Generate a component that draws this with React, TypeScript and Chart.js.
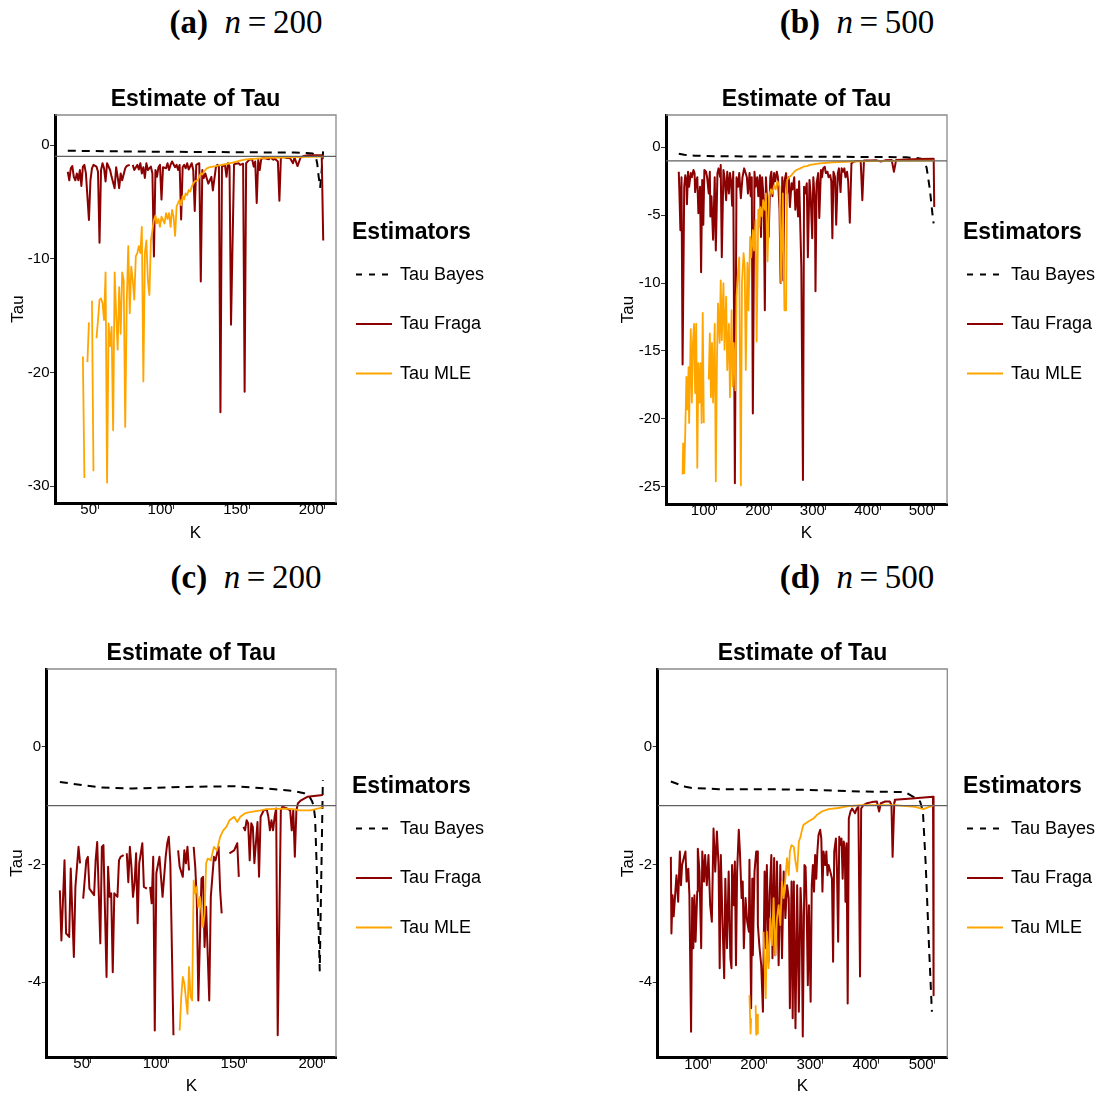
import React, { useEffect, useRef } from "react";
import { Chart, registerables } from "chart.js";

Chart.register(...registerables);

const FONT = '"Liberation Sans", Arial, Helvetica, sans-serif';
const SERIF = '"Liberation Serif", "DejaVu Serif", serif';

// ---- series names / colours ----
const seriesNames = ["Tau Bayes", "Tau Fraga", "Tau MLE"];
const seriesColors = ["#000000", "#8B0000", "#FFA500"];
const referenceTau = -1;

// ---- axis ticks / limits ----
const xTicksN200 = [50, 100, 150, 200];
const xTicksN500 = [100, 200, 300, 400, 500];
const xLimitsN200 = [21.55, 207.45];
const xLimitsN500 = [6.55, 522.45];
const yTicksA = [0, -10, -20, -30];
const yTicksB = [0, -5, -10, -15, -20, -25];
const yTicksCD = [0, -2, -4];
const yLimitsA = [-31.49, 2.64];
const yLimitsB = [-26.27, 2.38];
const yLimitsC = [-5.27, 1.32];
const yLimitsD = [-5.28, 1.32];

// ---- captions ----
const captionTags = ["(a)", "(b)", "(c)", "(d)"];
const captionN = [200, 500, 200, 500];

// ---- panel (a): n = 200, [K, Tau] ----
const aBayes = [[30,-0.50],[45,-0.53],[60,-0.55],[80,-0.58],[100,-0.60],[120,-0.61],[140,-0.63],[160,-0.65],[180,-0.66],[188,-0.70],[192,-0.75],[194,-1.0],[195,-1.6],[196,-2.8],[197,-3.7],[198,-2.2],[199,-0.4]];
const aFraga = [[30,-2.35],[31,-3.1],[32,-2.05],[33,-1.85],[34,-2.8],[35,-3.1],[36,-2.5],[37,-3.1],[38,-2.2],[39,-3.6],[40,-1.9],[41,-1.75],[42,-2.5],[44,-6.6],[45,-3.1],[46,-2.05],[47,-1.75],[49,-1.9],[50,-2.35],[51,-8.6],[52,-2.2],[53,-1.6],[54,-2.05],[55,-3.2],[56,-1.6],[58,-2.2],[59,-2.8],[61,-3.8],[62,-1.95],[63,-2.8],[64,-3.8],[65,-2.5],[66,-3.1],[68,-2.05],[69,-1.85],[71,-1.75],[72,null],[73,-1.75],[74,-2.2],[76,-1.75],[77,-2.15],[78,-1.6],[79,-2.5],[80,-1.95],[81,-2.9],[82,-1.6],[83,-2.2],[85,-1.9],[86,-2.5],[87,-9.8],[88,-2.2],[89,-2.8],[90,-1.95],[91,-1.75],[92,-4.8],[93,-1.95],[95,-2.05],[96,-1.6],[97,-2.2],[98,-1.75],[99,-1.45],[101,-1.95],[102,-1.75],[103,-2.2],[104,-1.75],[105,-6.55],[106,-1.95],[107,-1.75],[108,-2.05],[109,-1.6],[110,-2.15],[112,-1.6],[113,-2.2],[114,-5.8],[115,-1.75],[117,-1.6],[118,-12.0],[119,-2.2],[120,-2.9],[121,-2.5],[123,-3.4],[125,-2.8],[126,-4.0],[128,-1.95],[129,-1.75],[130,-1.9],[131,-23.5],[132,-1.9],[134,-1.75],[135,-2.8],[136,-1.6],[137,-1.85],[138,-15.8],[140,-1.7],[141,-1.65],[143,-1.6],[144,-1.75],[146,-1.65],[147,-21.7],[148,-1.6],[150,-1.3],[152,-1.25],[153,-1.9],[154,-1.45],[155,-5.1],[156,-1.3],[157,-2.2],[158,-1.2],[160,-1.15],[163,-1.25],[164,-1.1],[166,-1.3],[167,-1.2],[169,-1.45],[170,-4.9],[171,-1.1],[173,-1.05],[175,-1.15],[177,-1.15],[179,-1.6],[180,-1.1],[182,-1.85],[184,-1.1],[186,-0.97],[189,-0.9],[193,-0.9],[197,-0.9],[198,-0.9],[199,-8.4]];
const aMle = [[40,-18.6],[41,-29.3],[42,null],[43,-19.1],[44,-15.6],[45,null],[46,-13.7],[47,-28.7],[48,null],[49,-17.0],[50,-15.4],[51,-13.6],[52,-13.5],[53,-13.9],[54,-15.4],[55,-11.2],[56,-29.7],[57,-15.7],[58,-17.7],[59,-16.0],[60,-25.1],[61,-11.2],[62,-14.8],[63,-18.0],[64,-12.5],[65,-16.6],[66,-11.2],[67,-11.9],[68,-24.8],[69,-13.9],[70,-8.9],[71,-14.8],[72,-10.7],[73,-11.9],[74,-13.6],[75,-9.8],[76,-9.5],[77,-8.9],[78,-9.5],[79,-7.2],[80,-20.8],[81,-9.5],[82,-8.4],[83,-11.9],[84,-13.2],[85,-8.4],[86,-7.5],[87,-6.6],[88,-6.2],[89,-6.9],[90,-6.5],[91,-7.2],[92,-6.3],[93,-6.6],[94,-6.9],[95,-6.0],[96,-6.5],[97,-6.0],[98,-7.2],[99,-5.7],[100,-6.3],[101,-8.0],[102,-5.4],[103,-5.1],[104,-4.8],[105,-5.3],[106,-4.5],[107,-4.8],[108,-4.25],[109,-4.4],[110,-3.96],[111,-4.1],[112,-3.67],[113,-3.4],[114,-3.2],[116,-3.1],[117,-2.8],[118,-2.5],[119,-2.6],[120,-2.35],[122,-2.05],[124,-1.95],[126,-1.9],[128,-1.85],[131,-1.76],[135,-1.67],[139,-1.55],[144,-1.38],[148,-1.26],[155,-1.2],[162,-1.14],[170,-1.1],[180,-1.07],[190,-1.05],[199,-1.03]];

// ---- panel (b): n = 500 ----
const bBayes = [[30,-0.47],[40,-0.55],[60,-0.62],[100,-0.66],[150,-0.67],[200,-0.68],[300,-0.70],[400,-0.71],[448,-0.74],[470,-0.80],[479,-0.88],[485,-1.5],[491,-3.1],[497,-5.4],[498,-5.6]];
const bFraga = [[30,-1.8],[31,-3.1],[33,-6.1],[35,-2.2],[37,-16.0],[40,-2.9],[42,-2.05],[44,-2.5],[45,-4.2],[47,-1.8],[49,-2.9],[52,-1.9],[54,-2.2],[57,-1.67],[59,-1.9],[60,-3.3],[62,-2.5],[64,-2.2],[66,-4.85],[69,-2.9],[71,-9.2],[73,-2.4],[75,-5.7],[77,-1.67],[80,-1.8],[82,-2.2],[85,-3.4],[87,-1.8],[88,-5.1],[90,-3.6],[93,-6.8],[96,-2.2],[98,-7.6],[101,-1.9],[103,-1.55],[106,-2.2],[107,-1.3],[109,-8.1],[112,-1.67],[114,-2.2],[117,-3.9],[119,-1.8],[122,-3.4],[124,-1.9],[126,-2.5],[128,-4.3],[130,-1.8],[133,-24.75],[136,-2.2],[139,-2.9],[141,-1.9],[144,-3.75],[147,-2.2],[150,-1.55],[152,-1.8],[155,-2.2],[157,-3.4],[160,-1.9],[162,-3.6],[164,-2.2],[166,-19.6],[169,-1.8],[171,-2.9],[174,-2.2],[176,-3.6],[179,-2.05],[181,-6.6],[183,-2.2],[186,-3.9],[188,-12.0],[190,-2.2],[193,-4.6],[195,-6.6],[198,-2.2],[200,-1.8],[202,-3.6],[205,-1.9],[207,-2.5],[210,-1.8],[212,-2.2],[215,-4.6],[217,-10.0],[220,-2.2],[222,-9.8],[224,-2.5],[227,-1.9],[229,-3.4],[232,-2.2],[234,-4.4],[237,-2.65],[239,-3.1],[242,-2.2],[244,-4.6],[247,-3.1],[249,-5.1],[251,-2.5],[255,-8.8],[258,-24.5],[260,-2.9],[262,-3.4],[265,-2.65],[267,-8.1],[270,-2.4],[272,-3.4],[275,-6.7],[277,-2.2],[280,-4.1],[281,-10.6],[283,-2.65],[286,-1.9],[288,-5.2],[291,-1.67],[293,-2.2],[295,-1.55],[298,-1.43],[300,-1.9],[303,-1.8],[305,-2.2],[308,-2.05],[310,-2.5],[312,-6.7],[314,-1.8],[317,-2.2],[319,-5.7],[322,-1.9],[324,-1.55],[327,-3.3],[329,-1.55],[332,-1.8],[334,-1.55],[336,-2.2],[339,-1.8],[341,-2.5],[344,-5.55],[347,-1.18],[351,-1.06],[357,-1.0],[364,-1.0],[367,-3.9],[370,-0.98],[381,-0.98],[393,-0.96],[401,-1.05],[409,-0.96],[421,-0.94],[425,-1.8],[429,-0.94],[448,-0.89],[473,-0.86],[498,-0.84],[499,-4.4]];
const bMle = [[37,-24.1],[38,-21.8],[40,-24.0],[42,-20.8],[44,-16.9],[46,-19.3],[48,-16.2],[49,-20.3],[52,-13.4],[54,-18.8],[56,-14.4],[58,-13.0],[60,-18.1],[62,-13.0],[64,-23.6],[66,-15.9],[68,-18.8],[70,-15.9],[72,-20.3],[74,-12.2],[76,-20.3],[77,null],[85,-17.1],[87,-13.7],[89,-18.4],[91,-14.4],[93,-18.8],[96,-13.0],[98,-24.6],[100,-15.9],[102,-11.5],[105,-14.4],[107,-9.8],[109,-14.2],[112,-10.0],[114,-14.9],[117,-11.0],[119,-16.4],[122,-13.0],[124,-18.4],[127,-12.0],[129,-17.6],[131,-14.4],[134,-17.9],[136,-11.0],[139,-9.0],[141,-8.1],[144,-24.9],[146,-10.0],[149,-7.8],[151,-8.8],[153,-16.4],[156,-8.5],[158,-12.0],[161,-6.6],[163,-8.1],[166,-6.1],[168,-7.6],[171,-5.35],[173,-14.3],[176,-4.6],[178,-5.85],[180,-4.4],[183,-5.1],[185,-3.9],[188,-4.6],[190,-3.4],[193,-8.4],[196,-3.6],[199,-3.1],[202,-3.4],[205,-2.8],[208,-3.1],[211,-2.5],[215,-2.9],[218,-10.0],[221,-3.4],[224,-12.0],[227,-12.0],[229,-2.4],[233,-2.2],[237,-2.05],[242,-1.8],[246,-1.67],[253,-1.55],[259,-1.43],[265,-1.38],[271,-1.3],[289,-1.18],[314,-1.1],[344,-1.06],[406,-1.0],[499,-0.98]];

// ---- panel (c): n = 200 ----
const cBayes = [[30,-0.60],[44,-0.65],[56,-0.69],[77,-0.71],[99,-0.69],[120,-0.68],[142,-0.67],[163,-0.71],[180,-0.75],[187,-0.79],[190,-0.83],[192,-0.92],[193,-1.0],[194,-1.2],[195,-2.0],[196,-2.85],[197,-3.8],[198,-2.2],[199,-0.57]];
const cFraga = [[30,-2.44],[31,-3.29],[33,-1.93],[34,-3.17],[36,-3.23],[37,-2.07],[39,-3.57],[40,-2.38],[42,-1.70],[43,-1.98],[44,null],[45,-2.58],[47,-1.93],[48,-1.87],[49,-2.41],[52,-2.52],[53,-1.93],[54,-1.62],[56,-3.34],[57,-1.70],[58,-1.67],[60,-3.91],[61,-2.04],[62,-2.55],[63,-2.49],[64,-3.83],[65,-2.49],[67,-2.55],[68,-1.93],[69,-1.87],[71,-1.84],[72,null],[73,-1.81],[74,-2.30],[75,-1.70],[76,-2.04],[77,-2.55],[78,-2.32],[79,-1.81],[80,-3.00],[81,-1.98],[83,-1.64],[84,-2.38],[86,-2.41],[87,null],[88,-2.38],[89,-2.66],[90,-1.87],[91,-4.82],[92,-2.15],[94,-1.87],[95,-2.21],[96,-2.55],[98,-1.87],[99,-1.64],[100,-1.53],[101,-1.98],[103,-4.90],[104,null],[106,-1.76],[107,-2.04],[109,-2.21],[110,-1.76],[111,-1.98],[112,-1.70],[113,-2.10],[114,null],[116,-1.70],[117,-2.04],[118,-2.6],[119,-4.31],[121,-2.24],[122,-2.21],[123,-3.40],[124,-2.72],[126,-4.31],[127,-2.55],[129,-1.87],[130,-1.93],[132,-1.70],[133,-2.44],[134,-2.83],[135,null],[139,-1.81],[142,-1.76],[144,-1.64],[145,-2.21],[146,null],[148,-1.36],[149,-1.42],[150,-1.25],[151,-1.30],[152,-1.93],[153,-1.30],[154,-1.36],[155,-1.98],[157,-1.28],[158,-2.21],[159,-1.19],[161,-1.08],[163,-1.07],[164,-1.19],[165,-1.42],[166,-1.25],[167,-1.42],[168,-1.19],[169,-1.05],[170,-4.90],[172,-1.08],[173,-1.02],[176,-1.05],[178,-1.08],[179,-1.42],[180,-1.08],[181,-1.87],[182,-1.08],[183,-0.96],[185,-0.91],[189,-0.85],[199,-0.82]];
const cMle = [[107,-4.82],[108,-4.25],[109,-3.91],[110,-4.02],[112,-4.54],[113,-3.74],[114,-4.25],[115,-4.31],[116,-2.27],[117,-2.49],[118,-2.38],[119,-2.72],[120,-2.55],[122,-3.06],[123,-2.83],[124,-1.98],[125,-1.90],[127,-1.93],[129,-1.70],[131,-1.76],[133,-1.53],[135,-1.42],[137,-1.36],[139,-1.25],[142,-1.19],[144,-1.28],[146,-1.19],[149,-1.13],[152,-1.11],[159,-1.08],[163,-1.06],[174,-1.05],[180,-1.06],[184,-1.08],[191,-1.08],[199,-1.03]];

// ---- panel (d): n = 500 ----
const dBayes = [[30,-0.59],[56,-0.68],[68,-0.70],[115,-0.72],[200,-0.72],[264,-0.73],[370,-0.76],[447,-0.77],[462,-0.85],[474,-0.93],[479,-1.1],[484,-2.0],[490,-3.42],[495,-4.5]];
const dFraga = [[30,-1.87],[31,-3.17],[33,-2.52],[35,-2.88],[38,-2.46],[40,-2.18],[43,-2.63],[46,-1.78],[48,-2.35],[50,-2.01],[53,-1.89],[56,-1.78],[58,-2.29],[61,-2.07],[63,-2.52],[66,-4.84],[68,-2.57],[70,-3.42],[72,-2.52],[74,-3.31],[77,-2.46],[78,-1.73],[81,-2.12],[84,-3.42],[86,-1.78],[89,-2.29],[91,-1.84],[94,-2.35],[97,-1.84],[100,-2.69],[103,-2.97],[106,-1.39],[109,-2.12],[112,-1.44],[115,-2.01],[117,-3.76],[119,-1.84],[122,-2.97],[125,-3.93],[127,-2.24],[130,-3.42],[133,-2.12],[136,-3.59],[138,-3.76],[139,-2.01],[142,-2.69],[144,-1.95],[146,-3.71],[148,-2.12],[151,-1.41],[153,-1.78],[156,-2.57],[158,-2.29],[160,-3.42],[163,-2.57],[166,-2.97],[169,-3.14],[170,-1.92],[173,-4.44],[175,-2.24],[176,-3.54],[179,-2.12],[182,-1.78],[184,-1.78],[185,-3.03],[188,-3.42],[191,-3.71],[194,-4.50],[197,-2.12],[198,-3.42],[201,-2.01],[204,-3.65],[206,-2.52],[209,-1.84],[211,-3.59],[214,-1.89],[216,-3.54],[219,-1.95],[222,-3.71],[225,-2.01],[228,-3.59],[231,-2.12],[234,-2.91],[237,-2.35],[240,-2.57],[242,-4.44],[245,-2.29],[247,-4.61],[249,-2.29],[252,-4.78],[255,-2.35],[258,-4.50],[261,-2.40],[263,-2.86],[265,-4.92],[268,-2.01],[270,-2.04],[272,-2.80],[274,-4.05],[276,-2.69],[279,-4.33],[281,-2.35],[283,-2.01],[285,-2.46],[287,-1.84],[289,-2.24],[291,-1.78],[293,-1.50],[296,-1.41],[298,-1.56],[300,-2.46],[302,-1.78],[305,-2.01],[307,-1.78],[309,-2.18],[311,-2.01],[314,-2.12],[317,-2.24],[319,-3.65],[321,-1.78],[324,-1.56],[326,-2.12],[328,-3.31],[330,-1.53],[332,-1.67],[334,-1.56],[336,-2.24],[338,-1.61],[340,-1.78],[341,-2.63],[343,-1.64],[345,-4.36],[347,-1.22],[350,-1.10],[353,-1.05],[358,-1.13],[361,-1.05],[364,-1.02],[367,-3.90],[369,-1.05],[373,-0.99],[379,-0.96],[388,-0.94],[397,-0.93],[401,-1.10],[404,-0.96],[412,-0.93],[420,-0.93],[423,-0.99],[425,-1.87],[428,-0.94],[429,-0.90],[459,-0.88],[497,-0.85],[498,-4.22]];
const dMle = [[170,-4.22],[172,-4.87],[173,-4.61],[174,null],[181,-4.39],[182,-4.89],[184,-4.55],[185,-4.87],[186,null],[195,-3.14],[197,-3.71],[199,-4.27],[201,-3.14],[204,-3.76],[207,-2.91],[210,-3.37],[213,-2.57],[216,-3.54],[219,-2.91],[222,-2.69],[225,-3.03],[228,-2.29],[231,-2.57],[234,-2.24],[237,-1.89],[240,-2.18],[242,-1.78],[245,-1.67],[249,-1.70],[252,-1.95],[255,-2.12],[258,-1.61],[261,-1.53],[263,-1.44],[266,-1.33],[275,-1.27],[284,-1.22],[290,-1.16],[299,-1.10],[311,-1.06],[328,-1.04],[346,-1.01],[370,-0.99],[429,-0.99],[465,-1.02],[480,-1.06],[496,-1.00],[498,-1.00]];

// ---- layout of the four panels (page pixels / canvas pixels) ----
const panels = [
  { tag: captionTags[0], n: captionN[0], left: 0, top: 80, width: 552, height: 472, area: [55, 336, 35, 423], yWidth: 50, yTitleX: 18.3, xTitleY: 453.3, titleY: 20, xLim: xLimitsN200, yLim: yLimitsA, xTicks: xTicksN200, yTicks: yTicksA, bayes: aBayes, fraga: aFraga, mle: aMle, legendX: 352, legendTitleY: 153, legendItemY: 194.5 },
  { tag: captionTags[1], n: captionN[1], left: 552, top: 80, width: 552, height: 472, area: [114, 395, 35, 424], yWidth: 50, yTitleX: 76.8, xTitleY: 453.3, titleY: 20, xLim: xLimitsN500, yLim: yLimitsB, xTicks: xTicksN500, yTicks: yTicksB, bayes: bBayes, fraga: bFraga, mle: bMle, legendX: 411, legendTitleY: 153, legendItemY: 194.5 },
  { tag: captionTags[2], n: captionN[2], left: 0, top: 625, width: 552, height: 470, area: [46.7, 336, 44, 432], yWidth: 40, yTitleX: 17.8, xTitleY: 461.7, titleY: 29, xLim: xLimitsN200, yLim: yLimitsC, xTicks: xTicksN200, yTicks: yTicksCD, bayes: cBayes, fraga: cFraga, mle: cMle, legendX: 352, legendTitleY: 161.5, legendItemY: 203.5 },
  { tag: captionTags[3], n: captionN[3], left: 552, top: 625, width: 552, height: 470, area: [105.7, 395.3, 44, 432.7], yWidth: 40, yTitleX: 76.8, xTitleY: 461.7, titleY: 29, xLim: xLimitsN500, yLim: yLimitsD, xTicks: xTicksN500, yTicks: yTicksCD, bayes: dBayes, fraga: dFraga, mle: dMle, legendX: 411, legendTitleY: 161.5, legendItemY: 203.5 },
];

const captionPos = [
  { cx: 246, top: 2 },
  { cx: 857, top: 2 },
  { cx: 246, top: 557 },
  { cx: 857, top: 557 },
];

const panelBorder = {
  id: "panelBorder",
  beforeDatasetsDraw(chart: any) {
    const { ctx, chartArea } = chart;
    ctx.save();
    ctx.strokeStyle = "#8a8a8a";
    ctx.lineWidth = 1.3;
    ctx.beginPath();
    ctx.moveTo(chartArea.left, chartArea.top);
    ctx.lineTo(chartArea.right, chartArea.top);
    ctx.lineTo(chartArea.right, chartArea.bottom);
    ctx.stroke();
    ctx.restore();
  },
};

const ggLegend = {
  id: "ggLegend",
  afterDraw(chart: any, _args: any, opts: any) {
    const { ctx } = chart;
    ctx.save();
    ctx.textAlign = "left";
    ctx.textBaseline = "middle";
    ctx.fillStyle = "#000";
    ctx.font = `bold 23px ${FONT}`;
    ctx.fillText("Estimators", opts.x, opts.titleY);
    const items = chart.data.datasets.filter((d: any) => seriesNames.includes(d.label));
    items.forEach((d: any, i: number) => {
      const y = opts.itemY + i * opts.step;
      ctx.beginPath();
      ctx.strokeStyle = d.borderColor;
      ctx.lineWidth = 2;
      ctx.setLineDash(d.borderDash ? [6, 7] : []);
      ctx.moveTo(opts.x + 4, y);
      ctx.lineTo(opts.x + 40, y);
      ctx.stroke();
      ctx.setLineDash([]);
      ctx.font = `18px ${FONT}`;
      ctx.fillText(d.label, opts.x + 48, y + 0.5);
    });
    ctx.restore();
  },
};

function TauPanel({ p }: { p: any }) {
  const ref = useRef<HTMLCanvasElement>(null);
  useEffect(() => {
    const toXY = (arr: any[]) => arr.map(([x, y]) => ({ x, y }));
    const common = {
      pointRadius: 0,
      pointHoverRadius: 0,
      tension: 0,
      spanGaps: false,
      fill: false,
      borderJoinStyle: "round",
      borderCapStyle: "butt",
    };
    const titleLH = 23 * 1.2;
    const chart = new Chart(ref.current as HTMLCanvasElement, {
      type: "line",
      data: {
        datasets: [
          { ...common, label: seriesNames[0], data: toXY(p.bayes), borderColor: seriesColors[0], borderWidth: 2, borderDash: [8, 6], order: 3 },
          { ...common, label: seriesNames[1], data: toXY(p.fraga), borderColor: seriesColors[1], borderWidth: 2, order: 2 },
          { ...common, label: seriesNames[2], data: toXY(p.mle), borderColor: seriesColors[2], borderWidth: 1.8, order: 1 },
          { ...common, label: "reference", data: [{ x: p.xLim[0], y: referenceTau }, { x: p.xLim[1], y: referenceTau }], borderColor: "#606060", borderWidth: 1.3, order: 0 },
        ],
      } as any,
      options: {
        animation: false,
        responsive: false,
        devicePixelRatio: 1,
        events: [],
        layout: { padding: { left: p.area[0] - p.yWidth, right: p.width - p.area[1], top: 0, bottom: 0 } },
        plugins: {
          legend: { display: false },
          tooltip: { enabled: false },
          title: {
            display: true,
            text: "Estimate of Tau",
            color: "#000",
            fullSize: false,
            font: { family: FONT, size: 23, weight: "bold", lineHeight: 1.2 },
            padding: { top: p.titleY - titleLH / 2, bottom: p.area[2] - p.titleY - titleLH / 2 },
          },
          ggLegend: { x: p.legendX, titleY: p.legendTitleY, itemY: p.legendItemY, step: 49.5 },
        },
        scales: {
          x: {
            type: "linear",
            min: p.xLim[0],
            max: p.xLim[1],
            afterFit: (s: any) => { s.height = p.height - p.area[3]; },
            afterBuildTicks: (s: any) => { s.ticks = p.xTicks.map((v: number) => ({ value: v })); },
            ticks: { font: { family: FONT, size: 15 }, color: "#000", align: "end", padding: -8.3, maxRotation: 0, autoSkip: false, labelOffset: -1, callback: (v: any) => String(v) },
            grid: { drawOnChartArea: false, drawTicks: true, tickLength: 6, color: "#333", lineWidth: 1 },
            border: { display: true, color: "#000", width: 3 },
            title: { display: true, text: "K", color: "#000", font: { family: FONT, size: 17, lineHeight: 0.8 }, padding: { top: 0, bottom: p.height - p.xTitleY - 6.8 } },
          },
          y: {
            type: "linear",
            min: p.yLim[0],
            max: p.yLim[1],
            afterFit: (s: any) => { s.width = p.yWidth; },
            afterBuildTicks: (s: any) => { s.ticks = p.yTicks.map((v: number) => ({ value: v })); },
            ticks: { font: { family: FONT, size: 15 }, color: "#000", padding: 0.5, callback: (v: any) => String(v) },
            grid: { drawOnChartArea: false, drawTicks: true, tickLength: 5, color: "#333", lineWidth: 1 },
            border: { display: true, color: "#000", width: 3 },
            title: { display: true, text: "Tau", color: "#000", font: { family: FONT, size: 17, lineHeight: 1.2 }, padding: { top: p.yTitleX - (p.area[0] - p.yWidth) - 10.2, bottom: 0 } },
          },
        },
      } as any,
      plugins: [panelBorder, ggLegend] as any,
    });
    return () => chart.destroy();
  }, []);
  return (
    <canvas
      ref={ref}
      width={p.width}
      height={p.height}
      style={{ position: "absolute", left: p.left, top: p.top, width: p.width, height: p.height }}
    />
  );
}

export default function App() {
  return (
    <div style={{ position: "absolute", left: 0, top: 0, width: 1104, height: 1095, background: "#fff", overflow: "hidden" }}>
      {panels.map((p, i) => (
        <div
          key={"cap" + i}
          style={{
            position: "absolute",
            left: captionPos[i].cx - 200,
            top: captionPos[i].top,
            width: 400,
            textAlign: "center",
            fontFamily: SERIF,
            fontSize: 33,
            lineHeight: "40px",
            color: "#000",
            whiteSpace: "nowrap",
          }}
        >
          <b>{p.tag}</b>
          <span>{"\u2002"}</span>
          <i>n</i>
          <span>{"\u2009=\u2009"}</span>
          <span>{p.n}</span>
        </div>
      ))}
      {panels.map((p, i) => (
        <TauPanel key={"panel" + i} p={p} />
      ))}
    </div>
  );
}
